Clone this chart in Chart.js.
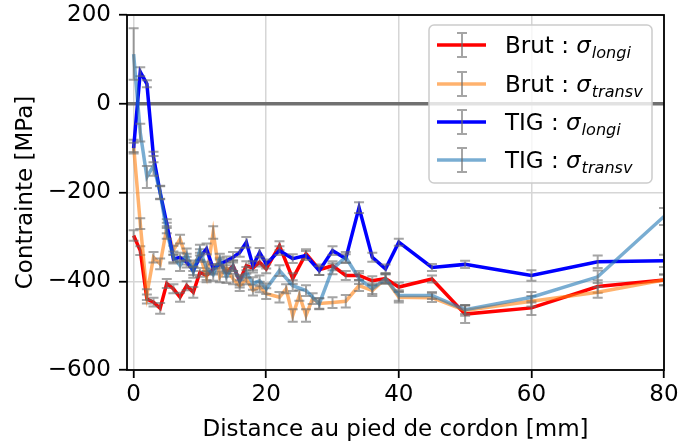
<!DOCTYPE html>
<html>
<head>
<meta charset="utf-8">
<script src="https://cdn.jsdelivr.net/npm/chart.js@4.4.1/dist/chart.umd.min.js"></script>
<style>
  html, body { margin: 0; padding: 0; background: #ffffff; }
  canvas { display: block; }
</style>
</head>
<body>
<canvas id="chart" width="685" height="445"></canvas>
<script>
// Measurement positions (mm from the weld toe)
const distMain = [0,1,2,3,4,5,6,7,8,9,10,11,12,13,14,15,16,17,18,19,20,
                  22,24,26,28,30,32,34,36,38,40,
                  45,50,60,70,80];
const distBrutTransv = [0,1,2,3,4,5,6,7,8,9,10,11,12,13,14,15,16,17,18,19,20,
                        22,23,24,25,26,27,28,30,32,34,36,38,40,
                        45,50,60,70,80];

// Residual stresses [MPa]
const brutLongi = [-297,-331,-440,-447,-461,-405,-417,-436,-410,-425,-380,-387,-373,-357,-380,-365,-399,-365,-370,-357,-372,
                   -320,-394,-338,-374,-365,-387,-387,-399,-394,-413,
                   -395,-474,-460,-412,-397];
const brutLongiErr = [12,10,10,10,12,10,10,10,10,12,10,10,12,10,10,12,10,10,10,10,10,
                      10,12,10,12,10,10,10,10,10,10,
                      8,20,16,14,12];

const brutTransv = [-95,-270,-430,-346,-361,-280,-330,-305,-350,-365,-340,-390,-290,-390,-370,-395,-410,-395,-420,-413,-428,
                    -436,-417,-477,-432,-477,-439,-450,-448,-445,-410,-421,-394,-436,
                    -437,-466,-445,-425,-397];
const brutTransvErr = [14,12,12,12,12,12,10,10,12,12,12,12,14,12,12,12,12,12,12,12,12,
                       12,10,14,12,14,12,12,12,14,12,12,10,12,
                       10,12,12,12,12];

const tigLongi = [-100,72,45,-120,-200,-270,-350,-346,-357,-376,-346,-327,-372,-361,-354,-346,-335,-312,-365,-335,-361,
                  -331,-349,-342,-376,-331,-349,-234,-346,-372,-312,
                  -369,-362,-387,-356,-354];
const tigLongiErr = [12,10,8,12,14,10,10,10,12,10,10,12,10,10,10,12,10,12,10,10,10,
                     10,10,10,10,10,10,12,10,10,8,
                     8,8,12,14,14];

const tigTransv = [112,-65,-165,-140,-200,-290,-345,-365,-340,-380,-330,-370,-385,-350,-390,-365,-400,-380,-405,-399,-417,
                   -376,-410,-421,-451,-372,-346,-394,-417,-394,-432,
                   -432,-464,-436,-390,-254];
const tigTransvErr = [58,20,25,22,15,14,12,12,14,12,12,14,14,12,14,12,14,12,14,12,12,
                      12,12,12,12,12,12,12,12,12,12,
                      8,10,12,14,19];

// Axes
const xTicks = [0, 20, 40, 60, 80];
const yTicks = [-600, -400, -200, 0, 200];
const xRange = [-1, 80];
const yRange = [-600, 200];
const refLevel = 0;

// Legend entries: prefix, symbol, subscript
const legendRows = [
  ['Brut : ', '\u03C3', 'longi'],
  ['Brut : ', '\u03C3', 'transv'],
  ['TIG : ', '\u03C3', 'longi'],
  ['TIG : ', '\u03C3', 'transv']
];

const FONT = '"DejaVu Sans", "Liberation Sans", sans-serif';
const FS = 23;

const colors = ['#ff0000', 'rgba(255,127,14,0.6)', '#0000ff', 'rgba(31,119,180,0.6)'];

function pts(xs, ys) { return xs.map((v, i) => ({ x: v, y: ys[i] })); }
function fmt(v) { return v < 0 ? '\u2212' + Math.abs(v) : String(v); }

function series(label, xs, ys, errs, color, order) {
  return {
    label, data: pts(xs, ys), errors: errs,
    borderColor: color, backgroundColor: color,
    borderWidth: 3.5, pointRadius: 0, showLine: true,
    tension: 0, order
  };
}

const datasets = [
  series('Brut longi', distMain, brutLongi, brutLongiErr, colors[0], 4),
  series('Brut transv', distBrutTransv, brutTransv, brutTransvErr, colors[1], 3),
  series('TIG longi', distMain, tigLongi, tigLongiErr, colors[2], 2),
  series('TIG transv', distMain, tigTransv, tigTransvErr, colors[3], 1)
];

// Horizontal reference line at zero stress, under the curves
const refLine = {
  id: 'refLine',
  beforeDatasetsDraw(chart) {
    const { ctx, chartArea: a, scales: { y } } = chart;
    const py = y.getPixelForValue(refLevel);
    ctx.save();
    ctx.strokeStyle = '#707070';
    ctx.lineWidth = 3.5;
    ctx.beginPath();
    ctx.moveTo(a.left, py);
    ctx.lineTo(a.right, py);
    ctx.stroke();
    ctx.restore();
  }
};

// Vertical error bars with caps, drawn after each series
const errorBars = {
  id: 'errorBars',
  afterDatasetDraw(chart, args) {
    const ds = chart.data.datasets[args.index];
    if (!ds.errors) return;
    const { ctx, chartArea: a, scales: { x, y } } = chart;
    ctx.save();
    ctx.beginPath();
    ctx.rect(a.left, a.top, a.right - a.left, a.bottom - a.top);
    ctx.clip();
    ctx.strokeStyle = 'rgba(105,105,105,0.6)';
    ctx.lineWidth = 2;
    ds.data.forEach((p, i) => {
      const e = ds.errors[i];
      const px = x.getPixelForValue(p.x);
      const t = y.getPixelForValue(p.y + e);
      const b = y.getPixelForValue(p.y - e);
      ctx.beginPath();
      ctx.moveTo(px, t); ctx.lineTo(px, b);
      ctx.moveTo(px - 5, t); ctx.lineTo(px + 5, t);
      ctx.moveTo(px - 5, b); ctx.lineTo(px + 5, b);
      ctx.stroke();
    });
    ctx.restore();
  }
};

// Black frame around the plotting area plus the legend box
const frameAndLegend = {
  id: 'frameAndLegend',
  afterDraw(chart) {
    const { ctx, chartArea: a } = chart;
    ctx.save();
    ctx.strokeStyle = '#000000';
    ctx.lineWidth = 1.8;
    ctx.strokeRect(a.left, a.top, a.right - a.left, a.bottom - a.top);

    // legend frame
    const bx = 429, by = 25, bw = 223, bh = 158, r = 5;
    ctx.beginPath();
    ctx.moveTo(bx + r, by);
    ctx.arcTo(bx + bw, by, bx + bw, by + bh, r);
    ctx.arcTo(bx + bw, by + bh, bx, by + bh, r);
    ctx.arcTo(bx, by + bh, bx, by, r);
    ctx.arcTo(bx, by, bx + bw, by, r);
    ctx.closePath();
    ctx.fillStyle = 'rgba(255,255,255,0.8)';
    ctx.fill();
    ctx.strokeStyle = '#cccccc';
    ctx.lineWidth = 1.5;
    ctx.stroke();

    const rowY = [45, 84, 122, 160];
    legendRows.forEach((row, i) => {
      const cy = rowY[i];
      // line sample
      ctx.strokeStyle = colors[i];
      ctx.lineWidth = 3.5;
      ctx.beginPath();
      ctx.moveTo(437, cy); ctx.lineTo(486, cy);
      ctx.stroke();
      // error bar sample
      ctx.strokeStyle = 'rgba(105,105,105,0.6)';
      ctx.lineWidth = 2;
      ctx.beginPath();
      ctx.moveTo(462, cy - 12); ctx.lineTo(462, cy + 12);
      ctx.moveTo(457, cy - 12); ctx.lineTo(467, cy - 12);
      ctx.moveTo(457, cy + 12); ctx.lineTo(467, cy + 12);
      ctx.stroke();
      // label text
      const base = cy + 8;
      ctx.fillStyle = '#000000';
      ctx.textBaseline = 'alphabetic';
      ctx.textAlign = 'left';
      let tx = 505;
      ctx.font = FS + 'px ' + FONT;
      ctx.fillText(row[0], tx, base);
      tx += ctx.measureText(row[0]).width;
      ctx.font = 'italic ' + FS + 'px ' + FONT;
      ctx.fillText(row[1], tx, base);
      tx += ctx.measureText(row[1]).width + 1;
      ctx.font = 'italic ' + (FS * 0.7) + 'px ' + FONT;
      ctx.fillText(row[2], tx, base + 5);
    });
    ctx.restore();
  }
};

new Chart(document.getElementById('chart'), {
  type: 'scatter',
  data: { datasets },
  plugins: [refLine, errorBars, frameAndLegend],
  options: {
    responsive: false,
    animation: false,
    devicePixelRatio: 1,
    layout: { padding: { top: 15, right: 21, left: 0, bottom: 0 } },
    plugins: { legend: { display: false }, tooltip: { enabled: false } },
    scales: {
      x: {
        type: 'linear',
        min: xRange[0], max: xRange[1],
        afterBuildTicks: s => { s.ticks = xTicks.map(v => ({ value: v })); },
        afterFit: s => { s.height = 75; s.paddingLeft = 0; s.paddingRight = 0; },
        grid: { color: '#d6d6d6', lineWidth: 1.5, tickColor: '#000000', tickWidth: 1.8, tickLength: 8 },
        border: { display: false },
        ticks: { color: '#000000', padding: 3, maxRotation: 0, font: { family: FONT, size: FS }, callback: v => fmt(v) },
        title: { display: true, text: 'Distance au pied de cordon [mm]', color: '#000000',
                 font: { family: FONT, size: FS }, padding: { top: 0, bottom: 1.5 } }
      },
      y: {
        type: 'linear',
        min: yRange[0], max: yRange[1],
        afterBuildTicks: s => { s.ticks = yTicks.map(v => ({ value: v })); },
        afterFit: s => { s.width = 127; s.paddingTop = 0; s.paddingBottom = 0; },
        grid: { color: '#d6d6d6', lineWidth: 1.5, tickColor: '#000000', tickWidth: 1.8, tickLength: 8 },
        border: { display: false },
        ticks: { color: '#000000', padding: 8, font: { family: FONT, size: FS }, callback: v => fmt(v) },
        title: { display: true, text: 'Contrainte [MPa]', color: '#000000',
                 font: { family: FONT, size: FS }, padding: { top: 12, bottom: 0 } }
      }
    }
  }
});
</script>
</body>
</html>
